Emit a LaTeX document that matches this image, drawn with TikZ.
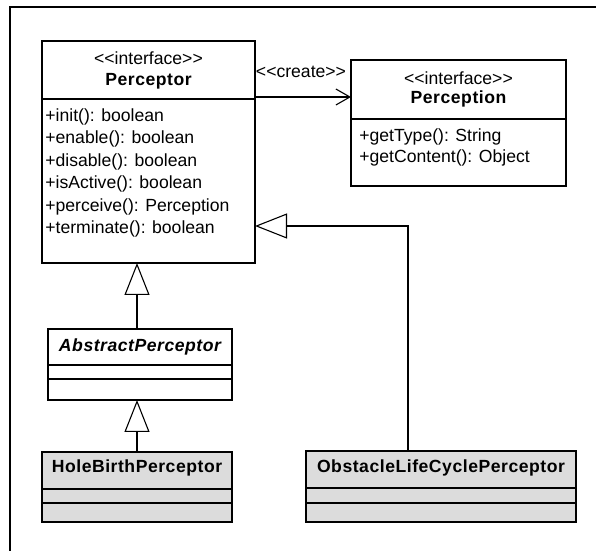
\documentclass[tikz,border=0pt]{standalone}
\usepackage{fontspec}
\setmainfont{Liberation Sans}
\usepackage{tikz}
\usetikzlibrary{positioning,arrows.meta,calc}
\definecolor{leafgray}{HTML}{DCDCDC}
\newcommand{\stereo}[1]{{<}{<}#1{>}{>}}

\begin{document}
\begin{tikzpicture}[x=0.5pt,y=-0.5pt]
\tikzstyle{cls}=[draw=black,line width=0.55pt,rectangle,anchor=north west,inner sep=0pt,outer sep=0pt];
\tikzstyle{leaf}=[cls,fill=leafgray];
\tikzstyle{dv}=[draw=black,line width=0.55pt];
\tikzstyle{txt}=[inner sep=0pt,font=\fontsize{8.8}{10}\selectfont];
\tikzstyle{nm}=[txt,font=\fontsize{8.8}{10}\selectfont\bfseries\addfontfeature{LetterSpace=3}];
\tikzstyle{op}=[txt,anchor=west];
\tikzstyle{gen}=[draw=black,line width=0.55pt,-{Triangle[length=16pt,width=12.5pt,fill=white]}];
\tikzstyle{dep}=[draw=black,line width=0.55pt,-{Straight Barb[length=7pt,width=8pt]}];
\tikzstyle{frame}=[draw=black,line width=1.2pt];
\useasboundingbox (0,0) rectangle (596,551);
\draw [frame] (10,551) -- (10,7) -- (596,7);
% boxes
\node [cls,minimum width=106.5pt,minimum height=111pt] (perceptor) at (42,41) {};
\node [cls,minimum width=107.5pt,minimum height=63pt] (perception) at (351,60) {};
\node [cls,minimum width=92pt,minimum height=35.5pt] (abstract) at (48,329) {};
\node [leaf,minimum width=95pt,minimum height=35pt] (hole) at (42,452) {};
\node [leaf,minimum width=135pt,minimum height=35.5pt] (obstacle) at (306,451) {};
% compartments
\draw [dv] (perceptor.west |- 0,99) -- (perceptor.east |- 0,99);
\draw [dv] (perception.west |- 0,119) -- (perception.east |- 0,119);
\draw [dv] (abstract.west |- 0,365) -- (abstract.east |- 0,365);
\draw [dv] (abstract.west |- 0,379) -- (abstract.east |- 0,379);
\draw [dv] (hole.west |- 0,489) -- (hole.east |- 0,489);
\draw [dv] (hole.west |- 0,503) -- (hole.east |- 0,503);
\draw [dv] (obstacle.west |- 0,488) -- (obstacle.east |- 0,488);
\draw [dv] (obstacle.west |- 0,503) -- (obstacle.east |- 0,503);
% texts
\node [txt] (perceptor-st) at (148.5,58) {\stereo{interface}};
\node [nm] (perceptor-nm) at (148.5,81) {Perceptor};
\foreach \m [count=\i] in {+init(): boolean,+enable(): boolean,+disable(): boolean,+isActive(): boolean,+perceive(): Perception,+terminate(): boolean}
  \node [op] (pm\i) at (45,{117+22.4*(\i-1)}) {\m};
\node [txt] (perception-st) at (458.5,78) {\stereo{interface}};
\node [nm] (perception-nm) at (458.5,99) {Perception};
\node [op] (qm1) at (359,137) {+getType(): String};
\node [op] (qm2) at (359,158) {+getContent(): Object};
\node [nm,font=\fontsize{8.8}{10}\selectfont\bfseries\itshape\addfontfeature{LetterSpace=3}] (abstract-nm) at (140,347) {AbstractPerceptor};
\node [nm] (hole-nm) at (137,468) {HoleBirthPerceptor};
\node [nm] (obstacle-nm) at (441,468) {ObstacleLifeCyclePerceptor};
% relations
\coordinate (crt) at (255,97);
\draw [dep] (crt) -- (crt -| perception.west);
\node [txt] (crt-lb) at (301,72) {\stereo{create}};
\coordinate (obc) at (408,226);
\draw [gen] (obstacle.north -| obc) -- (obc) -- (obc -| perceptor.east);
\draw [gen] (hole.north) -- (abstract.south -| hole.north);
\draw [gen] (abstract.north -| hole.north) -- (perceptor.south -| hole.north);
\end{tikzpicture}
\end{document}
